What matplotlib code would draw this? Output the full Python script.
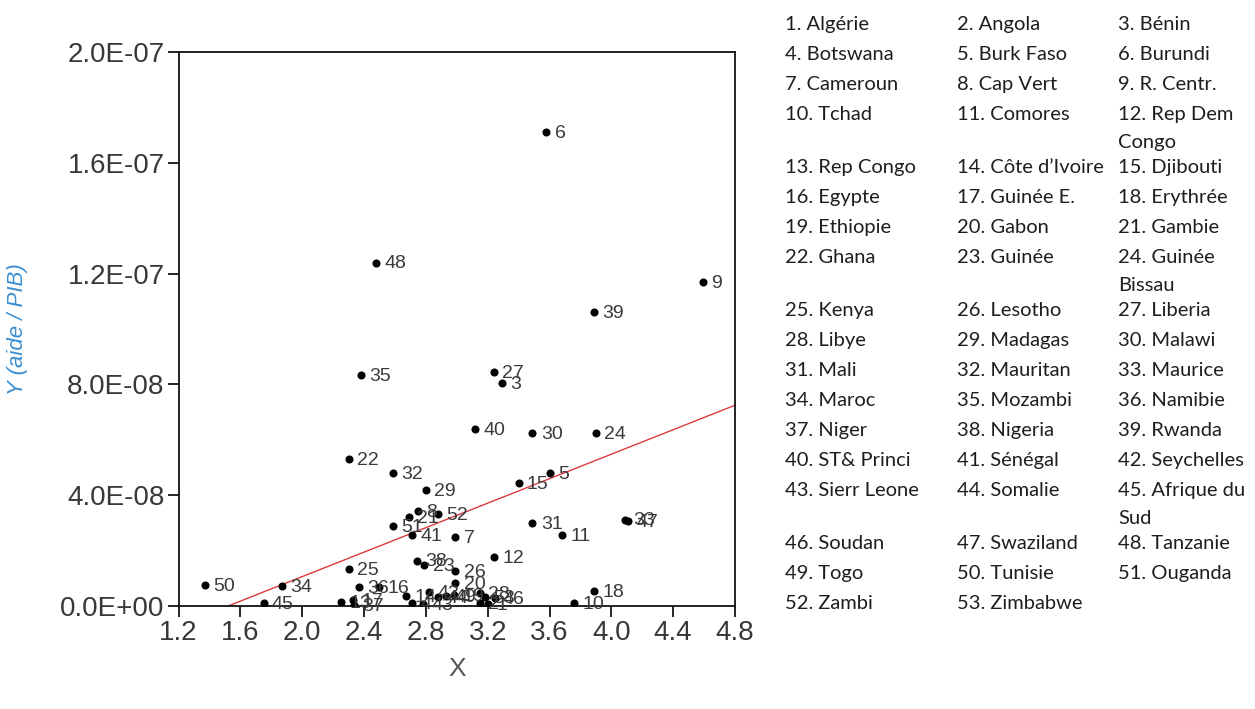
import matplotlib
matplotlib.use('Agg')
import matplotlib.pyplot as plt
from matplotlib.ticker import FuncFormatter, MultipleLocator

# numéros des pays, X et Y (aide / PIB)
ids = list(range(1, 54))
x_vals = [3.20, 3.15, 3.29, 2.71, 3.60, 3.58, 2.99, 2.75, 4.59, 3.76,
          3.68, 3.24, 2.25, 2.67, 3.40, 2.50, 2.33, 3.89, 2.985, 2.99,
          2.69, 2.30, 2.79, 3.90, 2.30, 2.99, 3.24, 3.15, 2.80, 3.49,
          3.49, 2.59, 4.09, 1.87, 2.38, 2.37, 2.335, 2.74, 3.89, 3.12,
          2.71, 2.82, 2.78, 2.88, 1.75, 3.245, 4.11, 2.48, 2.93, 1.37,
          2.585, 2.88, 3.18]
y_vals = [0.06e-8, 0.10e-8, 8.05e-8, 0.11e-8, 4.80e-8, 17.1e-8, 2.49e-8, 3.44e-8, 11.7e-8, 0.11e-8,
          2.56e-8, 1.77e-8, 0.14e-8, 0.36e-8, 4.44e-8, 0.69e-8, 0.22e-8, 0.54e-8, 0.40e-8, 0.83e-8,
          3.22e-8, 5.31e-8, 1.48e-8, 6.25e-8, 1.34e-8, 1.26e-8, 8.45e-8, 0.47e-8, 4.19e-8, 6.25e-8,
          3.00e-8, 4.80e-8, 3.12e-8, 0.72e-8, 8.34e-8, 0.69e-8, 0.04e-8, 1.64e-8, 10.6e-8, 6.39e-8,
          2.56e-8, 0.51e-8, 0.08e-8, 0.32e-8, 0.11e-8, 0.29e-8, 3.06e-8, 12.4e-8, 0.36e-8, 0.76e-8,
          2.89e-8, 3.32e-8, 0.32e-8]

# droite de régression
fit_slope = 2.21e-8
fit_intercept = -3.36e-8

pays = ["Algérie", "Angola", "Bénin", "Botswana", "Burk Faso", "Burundi",
        "Cameroun", "Cap Vert", "R. Centr.", "Tchad", "Comores", "Rep Dem\nCongo",
        "Rep Congo", "Côte d’Ivoire", "Djibouti", "Egypte", "Guinée E.", "Erythrée",
        "Ethiopie", "Gabon", "Gambie", "Ghana", "Guinée", "Guinée\nBissau",
        "Kenya", "Lesotho", "Liberia", "Libye", "Madagas", "Malawi",
        "Mali", "Mauritan", "Maurice", "Maroc", "Mozambi", "Namibie",
        "Niger", "Nigeria", "Rwanda", "ST& Princi", "Sénégal", "Seychelles",
        "Sierr Leone", "Somalie", "Afrique du\nSud", "Soudan", "Swaziland", "Tanzanie",
        "Togo", "Tunisie", "Ouganda", "Zambi", "Zimbabwe"]

W, H = 1255, 709
fig = plt.figure(figsize=(W / 100, H / 100), dpi=100)
ax = fig.add_axes([178.5 / W, 1 - 606 / H, 556.5 / W, 554 / H])

ax.plot(x_vals, y_vals, 'o', color='black', markersize=4.8, zorder=3)
for i, xv, yv in zip(ids, x_vals, y_vals):
    ax.annotate(str(i), (xv, yv), xytext=(6, -1), textcoords='offset points',
                va='center', ha='left', fontsize=14, color='#3a3a3a',
                family='Liberation Sans', zorder=4)

ax.axline((0, fit_intercept), slope=fit_slope, color='#dd3a40', lw=1.0, zorder=2)

ax.set_xlim(1.2, 4.8)
ax.set_ylim(0, 2.0e-7)
ax.xaxis.set_major_locator(MultipleLocator(0.4))
ax.yaxis.set_major_locator(MultipleLocator(4e-8))
ax.xaxis.set_major_formatter(FuncFormatter(lambda v, p: f"{v:.1f}"))
ax.yaxis.set_major_formatter(FuncFormatter(lambda v, p: f"{v:.1E}"))
ax.tick_params(direction='out', length=8, width=1.2, labelsize=20,
               labelcolor='#383838', pad=2)
for lab in ax.get_xticklabels() + ax.get_yticklabels():
    lab.set_family('Liberation Sans')
for s in ax.spines.values():
    s.set_linewidth(1.3)
    s.set_color('#111111')

ax.set_ylabel('Y (aide / PIB)', fontsize=16, style='italic', color='#3b8ed0',
              family='Liberation Sans')
ax.yaxis.set_label_coords(-0.27, 0.5)
ax.set_xlabel('X', fontsize=19, color='#555555', family='Liberation Sans')
ax.xaxis.set_label_coords(0.5, -0.092)

# tableau des pays à droite
col_x = [785, 957, 1118]
y = 24.5
for r in range(0, len(pays), 3):
    wrapped = False
    for c in range(3):
        k = r + c
        if k >= len(pays):
            break
        lines = pays[k].split('\n')
        fig.text(col_x[c] / W, 1 - y / H, f"{k + 1}. {lines[0]}", fontsize=14.5,
                 family='Lato', color='#1e1e1e', va='center', ha='left')
        if len(lines) > 1:
            fig.text(col_x[c] / W, 1 - (y + 28) / H, lines[1], fontsize=14.5,
                     family='Lato', color='#1e1e1e', va='center', ha='left')
            wrapped = True
    y += 30 + (23 if wrapped else 0)

fig.savefig('out.png', dpi=100, facecolor='white')
